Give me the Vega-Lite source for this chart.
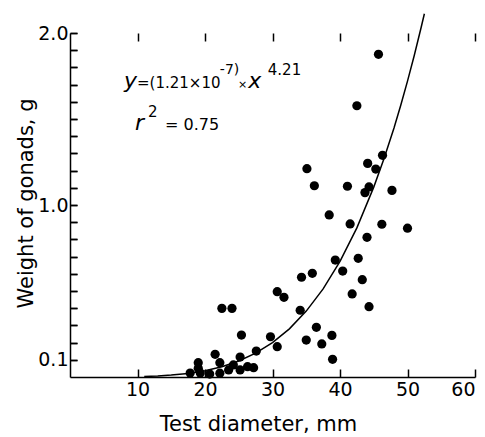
{
  "$schema": "https://vega.github.io/schema/vega-lite/v6.json",
  "autosize": "none",
  "width": 405,
  "height": 344,
  "padding": {"left": 70, "top": 33, "right": 10, "bottom": 60},
  "background": "white",
  "config": {
    "view": {"stroke": null},
    "font": "DejaVu Sans",
    "axis": {"ticks": true, "domainColor": "black", "tickColor": "black", "labelColor": "black", "titleColor": "black", "domainWidth": 1.5, "tickWidth": 1.5, "labelFont": "DejaVu Sans", "titleFont": "DejaVu Sans", "titleFontWeight": "normal", "labelFontSize": 19, "titleFontSize": 21, "gridColor": "black", "gridWidth": 1.5, "gridOpacity": 1},
    "axisX": {"tickSize": -8, "labelPadding": 11, "gridDash": [8, 2000]},
    "axisY": {"tickSize": -7, "labelPadding": 9, "gridDash": [7, 2000]}
  },
  "datasets": {
    "points": [
      {"diameter": 45.7, "weight": 1.876},
      {"diameter": 42.5, "weight": 1.577},
      {"diameter": 46.3, "weight": 1.289},
      {"diameter": 44.1, "weight": 1.242},
      {"diameter": 45.3, "weight": 1.209},
      {"diameter": 35.1, "weight": 1.211},
      {"diameter": 36.2, "weight": 1.112},
      {"diameter": 41.1, "weight": 1.109},
      {"diameter": 44.3, "weight": 1.105},
      {"diameter": 43.7, "weight": 1.072},
      {"diameter": 47.7, "weight": 1.085},
      {"diameter": 38.4, "weight": 0.942},
      {"diameter": 41.5, "weight": 0.890},
      {"diameter": 46.2, "weight": 0.888},
      {"diameter": 50.0, "weight": 0.865},
      {"diameter": 44.0, "weight": 0.812},
      {"diameter": 39.3, "weight": 0.680},
      {"diameter": 42.7, "weight": 0.690},
      {"diameter": 34.3, "weight": 0.580},
      {"diameter": 35.9, "weight": 0.603},
      {"diameter": 40.4, "weight": 0.616},
      {"diameter": 43.3, "weight": 0.566},
      {"diameter": 30.7, "weight": 0.496},
      {"diameter": 31.7, "weight": 0.463},
      {"diameter": 41.8, "weight": 0.483},
      {"diameter": 44.3, "weight": 0.409},
      {"diameter": 34.1, "weight": 0.388},
      {"diameter": 22.5, "weight": 0.399},
      {"diameter": 24.0, "weight": 0.399},
      {"diameter": 36.5, "weight": 0.289},
      {"diameter": 38.8, "weight": 0.242},
      {"diameter": 35.0, "weight": 0.215},
      {"diameter": 37.3, "weight": 0.192},
      {"diameter": 38.9, "weight": 0.103},
      {"diameter": 25.4, "weight": 0.244},
      {"diameter": 29.7, "weight": 0.234},
      {"diameter": 30.7, "weight": 0.176},
      {"diameter": 27.6, "weight": 0.151},
      {"diameter": 27.2, "weight": 0.054},
      {"diameter": 21.5, "weight": 0.132},
      {"diameter": 22.2, "weight": 0.083},
      {"diameter": 19.0, "weight": 0.083},
      {"diameter": 19.0, "weight": 0.051},
      {"diameter": 25.2, "weight": 0.116},
      {"diameter": 25.2, "weight": 0.041},
      {"diameter": 24.2, "weight": 0.070},
      {"diameter": 23.5, "weight": 0.041},
      {"diameter": 17.8, "weight": 0.023},
      {"diameter": 19.3, "weight": 0.023},
      {"diameter": 20.7, "weight": 0.017},
      {"diameter": 22.2, "weight": 0.022},
      {"diameter": 26.3, "weight": 0.060}
    ],
    "curve": [
      {"diameter": 11, "weight": 0.003},
      {"diameter": 13, "weight": 0.006},
      {"diameter": 15, "weight": 0.011},
      {"diameter": 17.5, "weight": 0.021},
      {"diameter": 20, "weight": 0.036},
      {"diameter": 22.5, "weight": 0.060},
      {"diameter": 25, "weight": 0.093},
      {"diameter": 27.5, "weight": 0.139},
      {"diameter": 30, "weight": 0.200},
      {"diameter": 32.5, "weight": 0.280},
      {"diameter": 35, "weight": 0.383},
      {"diameter": 37.5, "weight": 0.512},
      {"diameter": 40, "weight": 0.672},
      {"diameter": 42.5, "weight": 0.867},
      {"diameter": 45, "weight": 1.104},
      {"diameter": 46.5, "weight": 1.267},
      {"diameter": 48, "weight": 1.448},
      {"diameter": 49, "weight": 1.580},
      {"diameter": 50, "weight": 1.720},
      {"diameter": 51, "weight": 1.869},
      {"diameter": 52, "weight": 2.029},
      {"diameter": 52.5, "weight": 2.112}
    ],
    "one": [{}]
  },
  "layer": [
    {
      "data": {"name": "curve"},
      "mark": {"type": "line", "color": "black", "strokeWidth": 1.5, "clip": false},
      "encoding": {
        "x": {"field": "diameter", "type": "quantitative",
          "scale": {"domain": [0, 60], "nice": false, "zero": false},
          "axis": {"values": [10, 20, 30, 40, 50, 60], "grid": true, "format": "d", "title": "Test diameter, mm", "titleX": 188, "titleY": 53, "titleBaseline": "alphabetic", "titleAnchor": null}},
        "y": {"field": "weight", "type": "quantitative",
          "scale": {"domain": [0, 2], "nice": false, "zero": false},
          "axis": {"values": [0.1, 0.2, 0.3, 0.4, 0.5, 0.6, 0.7, 0.8, 0.9, 1.0, 1.1, 1.2, 1.3, 1.4, 1.5, 1.6, 1.7, 1.8, 1.9, 2.0], "tickCount": 21, "grid": true,
            "labelExpr": "datum.value === 0.1 ? '0.1' : (datum.value === 1 ? '1.0' : (datum.value === 2 ? '2.0' : ''))",
            "title": "Weight of gonads, g", "titleX": -44, "titleY": 170, "titleAngle": -90, "titleAlign": "center", "titleBaseline": "middle", "titleAnchor": null}}
      }
    },
    {
      "data": {"name": "points"},
      "mark": {"type": "circle", "color": "black", "opacity": 1, "size": 85},
      "encoding": {
        "x": {"field": "diameter", "type": "quantitative"},
        "y": {"field": "weight", "type": "quantitative"}
      }
    },
    {
      "data": {"name": "one"},
      "mark": {"type": "text", "text": "y", "fontStyle": "italic", "fontSize": 22, "align": "left", "baseline": "alphabetic", "color": "black"},
      "encoding": {"x": {"datum": 8.0, "type": "quantitative"}, "y": {"datum": 1.68, "type": "quantitative"}}
    },
    {
      "data": {"name": "one"},
      "mark": {"type": "text", "text": "=(1.21×10", "fontSize": 15, "align": "left", "baseline": "alphabetic", "color": "black"},
      "encoding": {"x": {"datum": 9.93, "type": "quantitative"}, "y": {"datum": 1.68, "type": "quantitative"}}
    },
    {
      "data": {"name": "one"},
      "mark": {"type": "text", "text": "-7)", "fontSize": 14, "align": "left", "baseline": "alphabetic", "color": "black"},
      "encoding": {"x": {"datum": 22.2, "type": "quantitative"}, "y": {"datum": 1.76, "type": "quantitative"}}
    },
    {
      "data": {"name": "one"},
      "mark": {"type": "text", "text": "×", "fontSize": 11, "align": "left", "baseline": "alphabetic", "color": "black"},
      "encoding": {"x": {"datum": 24.9, "type": "quantitative"}, "y": {"datum": 1.68, "type": "quantitative"}}
    },
    {
      "data": {"name": "one"},
      "mark": {"type": "text", "text": "x", "fontStyle": "italic", "fontSize": 22, "align": "left", "baseline": "alphabetic", "color": "black"},
      "encoding": {"x": {"datum": 26.4, "type": "quantitative"}, "y": {"datum": 1.68, "type": "quantitative"}}
    },
    {
      "data": {"name": "one"},
      "mark": {"type": "text", "text": "4.21", "fontSize": 15, "align": "left", "baseline": "alphabetic", "color": "black"},
      "encoding": {"x": {"datum": 29.3, "type": "quantitative"}, "y": {"datum": 1.756, "type": "quantitative"}}
    },
    {
      "data": {"name": "one"},
      "mark": {"type": "text", "text": "r", "fontStyle": "italic", "fontSize": 22, "align": "left", "baseline": "alphabetic", "color": "black"},
      "encoding": {"x": {"datum": 9.63, "type": "quantitative"}, "y": {"datum": 1.436, "type": "quantitative"}}
    },
    {
      "data": {"name": "one"},
      "mark": {"type": "text", "text": "2", "fontSize": 15, "align": "left", "baseline": "alphabetic", "color": "black"},
      "encoding": {"x": {"datum": 11.56, "type": "quantitative"}, "y": {"datum": 1.512, "type": "quantitative"}}
    },
    {
      "data": {"name": "one"},
      "mark": {"type": "text", "text": "= 0.75", "fontSize": 16, "align": "left", "baseline": "alphabetic", "color": "black"},
      "encoding": {"x": {"datum": 14.07, "type": "quantitative"}, "y": {"datum": 1.436, "type": "quantitative"}}
    }
  ]
}
